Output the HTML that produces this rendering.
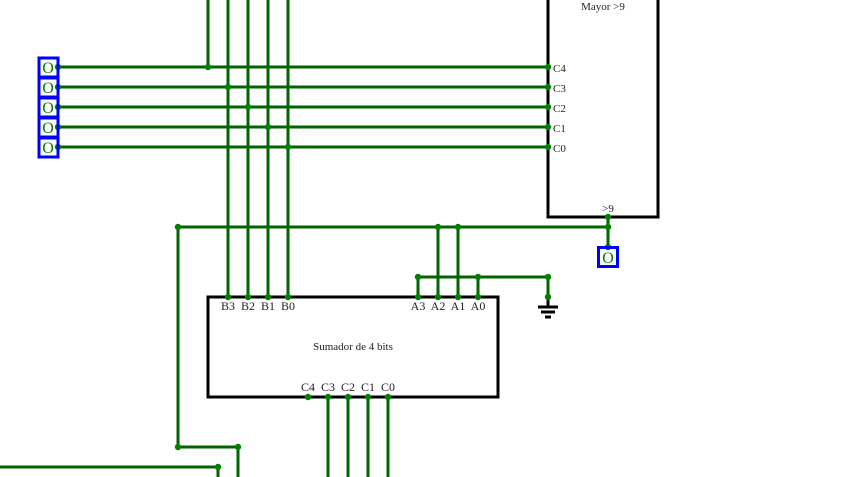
<!DOCTYPE html>
<html><head><meta charset="utf-8"><style>
html,body{margin:0;padding:0;background:#fff;}
svg{display:block;}
text{font-family:"Liberation Serif",serif;fill:#222;}
</style></head><body>
<svg width="846" height="477" viewBox="0 0 846 477" xmlns="http://www.w3.org/2000/svg">
<g fill="none" stroke="#000" stroke-width="3">
<rect x="548" y="-10" width="110" height="227"/>
<rect x="208" y="297" width="290" height="100"/>
</g>
<g stroke="#006400" stroke-width="3" fill="none">
<line x1="58" y1="67" x2="548" y2="67"/>
<line x1="58" y1="87" x2="548" y2="87"/>
<line x1="58" y1="107" x2="548" y2="107"/>
<line x1="58" y1="127" x2="548" y2="127"/>
<line x1="58" y1="147" x2="548" y2="147"/>
<line x1="208" y1="0" x2="208" y2="67"/>
<line x1="228" y1="0" x2="228" y2="297"/>
<line x1="248" y1="0" x2="248" y2="297"/>
<line x1="268" y1="0" x2="268" y2="297"/>
<line x1="288" y1="0" x2="288" y2="297"/>
<line x1="608" y1="217" x2="608" y2="247"/>
<polyline points="178,227 608,227"/>
<line x1="438" y1="227" x2="438" y2="297"/>
<line x1="458" y1="227" x2="458" y2="297"/>
<line x1="418" y1="277" x2="548" y2="277"/>
<line x1="418" y1="277" x2="418" y2="297"/>
<line x1="478" y1="277" x2="478" y2="297"/>
<line x1="548" y1="277" x2="548" y2="297"/>
<line x1="328" y1="397" x2="328" y2="477"/>
<line x1="348" y1="397" x2="348" y2="477"/>
<line x1="368" y1="397" x2="368" y2="477"/>
<line x1="388" y1="397" x2="388" y2="477"/>
<polyline points="178,227 178,447 238,447 238,477"/>
<polyline points="0,467 218,467 218,477"/>
</g>
<g stroke="#000" stroke-width="3">
<line x1="538" y1="307" x2="558" y2="307"/>
<line x1="541" y1="312" x2="555" y2="312"/>
<line x1="545" y1="317" x2="551" y2="317"/>
<line x1="548" y1="297" x2="548" y2="307"/>
</g>
<g fill="#008000">
<circle cx="58" cy="67" r="3.2"/><circle cx="58" cy="87" r="3.2"/><circle cx="58" cy="107" r="3.2"/><circle cx="58" cy="127" r="3.2"/><circle cx="58" cy="147" r="3.2"/>
<circle cx="208" cy="67" r="3.2"/><circle cx="228" cy="87" r="3.2"/><circle cx="248" cy="107" r="3.2"/><circle cx="268" cy="127" r="3.2"/><circle cx="288" cy="147" r="3.2"/>
<circle cx="548" cy="67" r="3.2"/><circle cx="548" cy="87" r="3.2"/><circle cx="548" cy="107" r="3.2"/><circle cx="548" cy="127" r="3.2"/><circle cx="548" cy="147" r="3.2"/>
<circle cx="608" cy="217" r="3.2"/><circle cx="608" cy="227" r="3.2"/><circle cx="608" cy="247" r="3.2"/>
<circle cx="178" cy="227" r="3.2"/><circle cx="438" cy="227" r="3.2"/><circle cx="458" cy="227" r="3.2"/>
<circle cx="418" cy="277" r="3.2"/><circle cx="478" cy="277" r="3.2"/><circle cx="548" cy="277" r="3.2"/><circle cx="548" cy="297" r="3.2"/>
<circle cx="228" cy="297" r="3.2"/><circle cx="248" cy="297" r="3.2"/><circle cx="268" cy="297" r="3.2"/><circle cx="288" cy="297" r="3.2"/>
<circle cx="418" cy="297" r="3.2"/><circle cx="438" cy="297" r="3.2"/><circle cx="458" cy="297" r="3.2"/><circle cx="478" cy="297" r="3.2"/>
<circle cx="308" cy="397" r="3.2"/><circle cx="328" cy="397" r="3.2"/><circle cx="348" cy="397" r="3.2"/><circle cx="368" cy="397" r="3.2"/><circle cx="388" cy="397" r="3.2"/>
<circle cx="178" cy="447" r="3.2"/><circle cx="238" cy="447" r="3.2"/><circle cx="218" cy="467" r="3.2"/>
</g>
<g fill="none" stroke="#0000ff" stroke-width="3">
<rect x="39" y="58" width="19" height="19"/><rect x="39" y="78" width="19" height="19"/><rect x="39" y="98" width="19" height="19"/><rect x="39" y="118" width="19" height="19"/><rect x="39" y="138" width="19" height="19"/>
<rect x="598.5" y="247.5" width="19" height="19"/>
</g>
<g font-size="16" style="fill:#008000" text-anchor="middle">
<text x="48" y="73" style="fill:#008000">O</text><text x="48" y="93" style="fill:#008000">O</text><text x="48" y="113" style="fill:#008000">O</text><text x="48" y="133" style="fill:#008000">O</text><text x="48" y="153" style="fill:#008000">O</text>
<text x="608" y="263" style="fill:#008000">O</text>
</g>
<g font-size="11">
<text x="603" y="10" text-anchor="middle">Mayor &gt;9</text>
<text x="553" y="72">C4</text><text x="553" y="92">C3</text><text x="553" y="112">C2</text><text x="553" y="132">C1</text><text x="553" y="152">C0</text>
<text x="608" y="212" text-anchor="middle">&gt;9</text>
<text x="353" y="350" text-anchor="middle">Sumador de 4 bits</text>
</g>
<g font-size="12" text-anchor="middle">
<text x="228" y="310">B3</text><text x="248" y="310">B2</text><text x="268" y="310">B1</text><text x="288" y="310">B0</text>
<text x="418" y="310">A3</text><text x="438" y="310">A2</text><text x="458" y="310">A1</text><text x="478" y="310">A0</text>
<text x="308" y="391">C4</text><text x="328" y="391">C3</text><text x="348" y="391">C2</text><text x="368" y="391">C1</text><text x="388" y="391">C0</text>
</g>
</svg>
</body></html>
